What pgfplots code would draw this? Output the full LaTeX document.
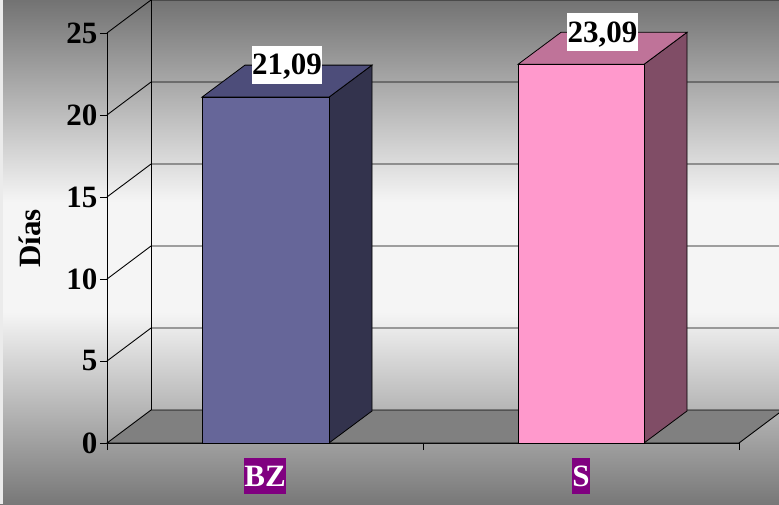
\documentclass[border=0pt]{standalone}
\usepackage{pgfplots}
\pgfplotsset{compat=1.18}
\usepackage{fontspec}
\setmainfont{Liberation Serif}

\definecolor{bzfront}{HTML}{666699}
\definecolor{bzside}{HTML}{33334D}
\definecolor{bztop}{HTML}{4D4D7A}
\definecolor{sfront}{HTML}{FF99CC}
\definecolor{sside}{HTML}{804D66}
\definecolor{stop}{HTML}{BF7399}
\definecolor{floorgray}{HTML}{808080}
\definecolor{catbg}{HTML}{800080}

% chart area fill: grey at top and bottom, nearly white in the middle
\pgfdeclareverticalshading{bgshade}{100bp}{%
  rgb(0bp)=(0.47,0.47,0.47); rgb(25bp)=(0.47,0.47,0.47);
  rgb(44bp)=(0.96,0.96,0.96); rgb(55bp)=(0.96,0.96,0.96);
  rgb(75bp)=(0.45,0.45,0.45); rgb(100bp)=(0.45,0.45,0.45)}

\newcommand{\bigfont}{\fontsize{31}{32}\selectfont\bfseries}

\begin{document}
\begin{tikzpicture}
\shade[shading=bgshade] (-107pt,-61pt) rectangle (672pt,443pt);
\fill[black!8] (-107pt,-61pt) rectangle (-104pt,443pt);
\begin{axis}[
    at={(0pt,0pt)}, anchor=south west,
    scale only axis,
    width=632pt, height=410pt,
    xmin=0, xmax=632,
    ymin=0, ymax=25,
    clip=false,
    axis x line=bottom, axis y line=left,
    axis line style={-, black, line width=0.9pt},
    tick style={black, line width=0.9pt},
    tick align=outside,
    major tick length=7pt,
    xtick={0,316,632},
    xticklabels={},
    ytick={0,5,...,25},
    extra x ticks={158,474},
    extra x tick labels={BZ,S},
    extra x tick style={major tick length=0pt,
        tick label style={fill=catbg, text=white, inner xsep=0.3pt, inner ysep=8pt,
            text height=20pt, text depth=0pt, anchor=north, yshift=-15pt}},
    tick label style={font=\bigfont},
    yticklabel style={xshift=1pt},
    /pgf/number format/assume math mode=true,
    ylabel={Días},
    ylabel style={at={(axis description cs:-0.1218,0.499)}, anchor=center, font=\bigfont},
]
% floor and walls
\fill[floorgray, draw=black, line width=0.9pt] (axis cs:0,0) -- (axis cs:632,0) -- (axis cs:676,2.012) -- (axis cs:44,2.012) -- cycle;
\draw[black, line width=0.9pt] (axis cs:44,2.012) -- (axis cs:44,28);
\pgfplotsinvokeforeach{5,10,15,20,25}{
  \draw[black, line width=0.9pt] (axis cs:0,#1) -- (axis cs:44,#1+2.012) -- (axis cs:700,#1+2.012);
}

% side and top faces of the bars
\addplot[fill=bzside, draw=black, line width=0.8pt] coordinates {(222,0) (265,1.951) (265,23.041) (222,21.09)} -- cycle;
\addplot[fill=bztop, draw=black, line width=0.8pt] coordinates {(95,21.09) (222,21.09) (265,23.041) (138,23.041)} -- cycle;
\addplot[fill=sside, draw=black, line width=0.8pt] coordinates {(537,0) (580,1.951) (580,25.041) (537,23.09)} -- cycle;
\addplot[fill=stop, draw=black, line width=0.8pt] coordinates {(411,23.09) (537,23.09) (580,25.041) (454,25.041)} -- cycle;

% front faces with value labels
\pgfplotsset{every node near coord/.append style={anchor=south, xshift=21.5pt, yshift=12.8pt,
    fill=white, text=black, inner xsep=0.5pt, inner ysep=9pt, text height=20pt, text depth=0pt,
    font=\bigfont,
    /pgf/number format/.cd, use comma, fixed, fixed zerofill, precision=2, assume math mode=true}}
\addplot[ybar, bar width=127, fill=bzfront, draw=black, line width=0.8pt, nodes near coords] coordinates {(158.5,21.09)};
\addplot[ybar, bar width=126, fill=sfront, draw=black, line width=0.8pt, nodes near coords] coordinates {(474,23.09)};
\end{axis}
\pgfresetboundingbox
\path[use as bounding box] (-107pt,-61pt) rectangle (672pt,443pt);
\end{tikzpicture}
\end{document}
